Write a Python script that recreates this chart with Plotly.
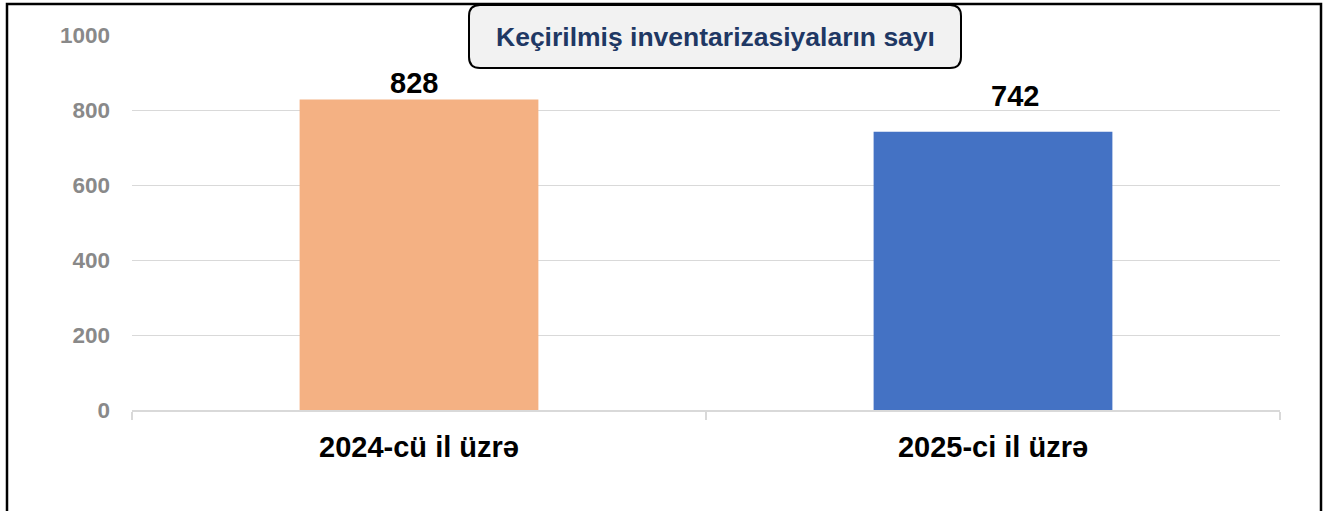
import plotly.graph_objects as go

categories = ["2024-cü il üzrə", "2025-ci il üzrə"]
values = [828, 742]
bar_colors = ["#F4B183", "#4472C4"]
title_text = "Keçirilmiş inventarizasiyaların sayı"
y_ticks = [0, 200, 400, 600, 800, 1000]

W, H = 1330, 511
L, R, T, B = 132, 50, 35, 101
pw, ph = W - L - R, H - T - B

def px(x):
    return (x - L) / pw

def py(y):
    return (H - B - y) / ph

FONT = "Liberation Sans, Arial, sans-serif"

fig = go.Figure()
fig.add_trace(go.Bar(
    x=categories, y=values,
    marker=dict(color=bar_colors, line=dict(width=0)),
    width=0.416,
    hoverinfo="skip",
))

# data labels
label_shifts = [(-5, -1), (22, 18)]
for c, v, (xs, ys) in zip(categories, values, label_shifts):
    fig.add_annotation(x=c, y=v, text=str(v), showarrow=False,
                       yanchor="bottom", xshift=xs, yshift=ys,
                       font=dict(family=FONT, size=29, color="#000000", weight="bold"))

# title box with rounded corners
bx0, bx1, by0, by1, r = 469, 961, 5, 68, 11
path = (
    f"M {px(bx0 + r)},{py(by0)} L {px(bx1 - r)},{py(by0)} "
    f"Q {px(bx1)},{py(by0)} {px(bx1)},{py(by0 + r)} "
    f"L {px(bx1)},{py(by1 - r)} Q {px(bx1)},{py(by1)} {px(bx1 - r)},{py(by1)} "
    f"L {px(bx0 + r)},{py(by1)} Q {px(bx0)},{py(by1)} {px(bx0)},{py(by1 - r)} "
    f"L {px(bx0)},{py(by0 + r)} Q {px(bx0)},{py(by0)} {px(bx0 + r)},{py(by0)} Z"
)
fig.add_shape(type="path", path=path, xref="paper", yref="paper",
              fillcolor="#F2F2F2", line=dict(color="#000000", width=2), layer="above")
fig.add_annotation(x=px((bx0 + bx1) / 2), y=py((by0 + by1) / 2), xref="paper", yref="paper",
                   text=title_text, showarrow=False,
                   xanchor="center", yanchor="middle",
                   font=dict(family=FONT, size=26.5, color="#1F3864", weight="bold"))

# outer frame
fig.add_shape(type="rect", xref="paper", yref="paper",
              x0=px(7), x1=px(1321), y0=py(530), y1=py(4),
              line=dict(color="#000000", width=2.5), fillcolor="rgba(0,0,0,0)", layer="above")

fig.update_layout(
    width=W, height=H,
    margin=dict(l=L, r=R, t=T, b=B),
    paper_bgcolor="white", plot_bgcolor="white",
    showlegend=False,
    font=dict(family=FONT),
)
fig.update_yaxes(
    range=[0, 1000], tickvals=y_ticks, showgrid=True, gridcolor="#D9D9D9", gridwidth=1,
    zeroline=False, showline=False,
    tickfont=dict(family=FONT, size=22.5, color="#898989", weight="bold"),
    ticklabelstandoff=21, ticks="",
)
fig.update_xaxes(
    showline=True, linecolor="#D9D9D9", linewidth=1.5,
    ticks="outside", tickson="boundaries", ticklen=8, tickcolor="#D9D9D9", tickwidth=1.5,
    tickfont=dict(family=FONT, size=29, color="#000000", weight="bold"),
    ticklabelstandoff=10,
)

fig.write_html("out.html", config={"displayModeBar": False},
               post_script="document.body.style.margin='0';document.body.style.overflow='hidden';")
